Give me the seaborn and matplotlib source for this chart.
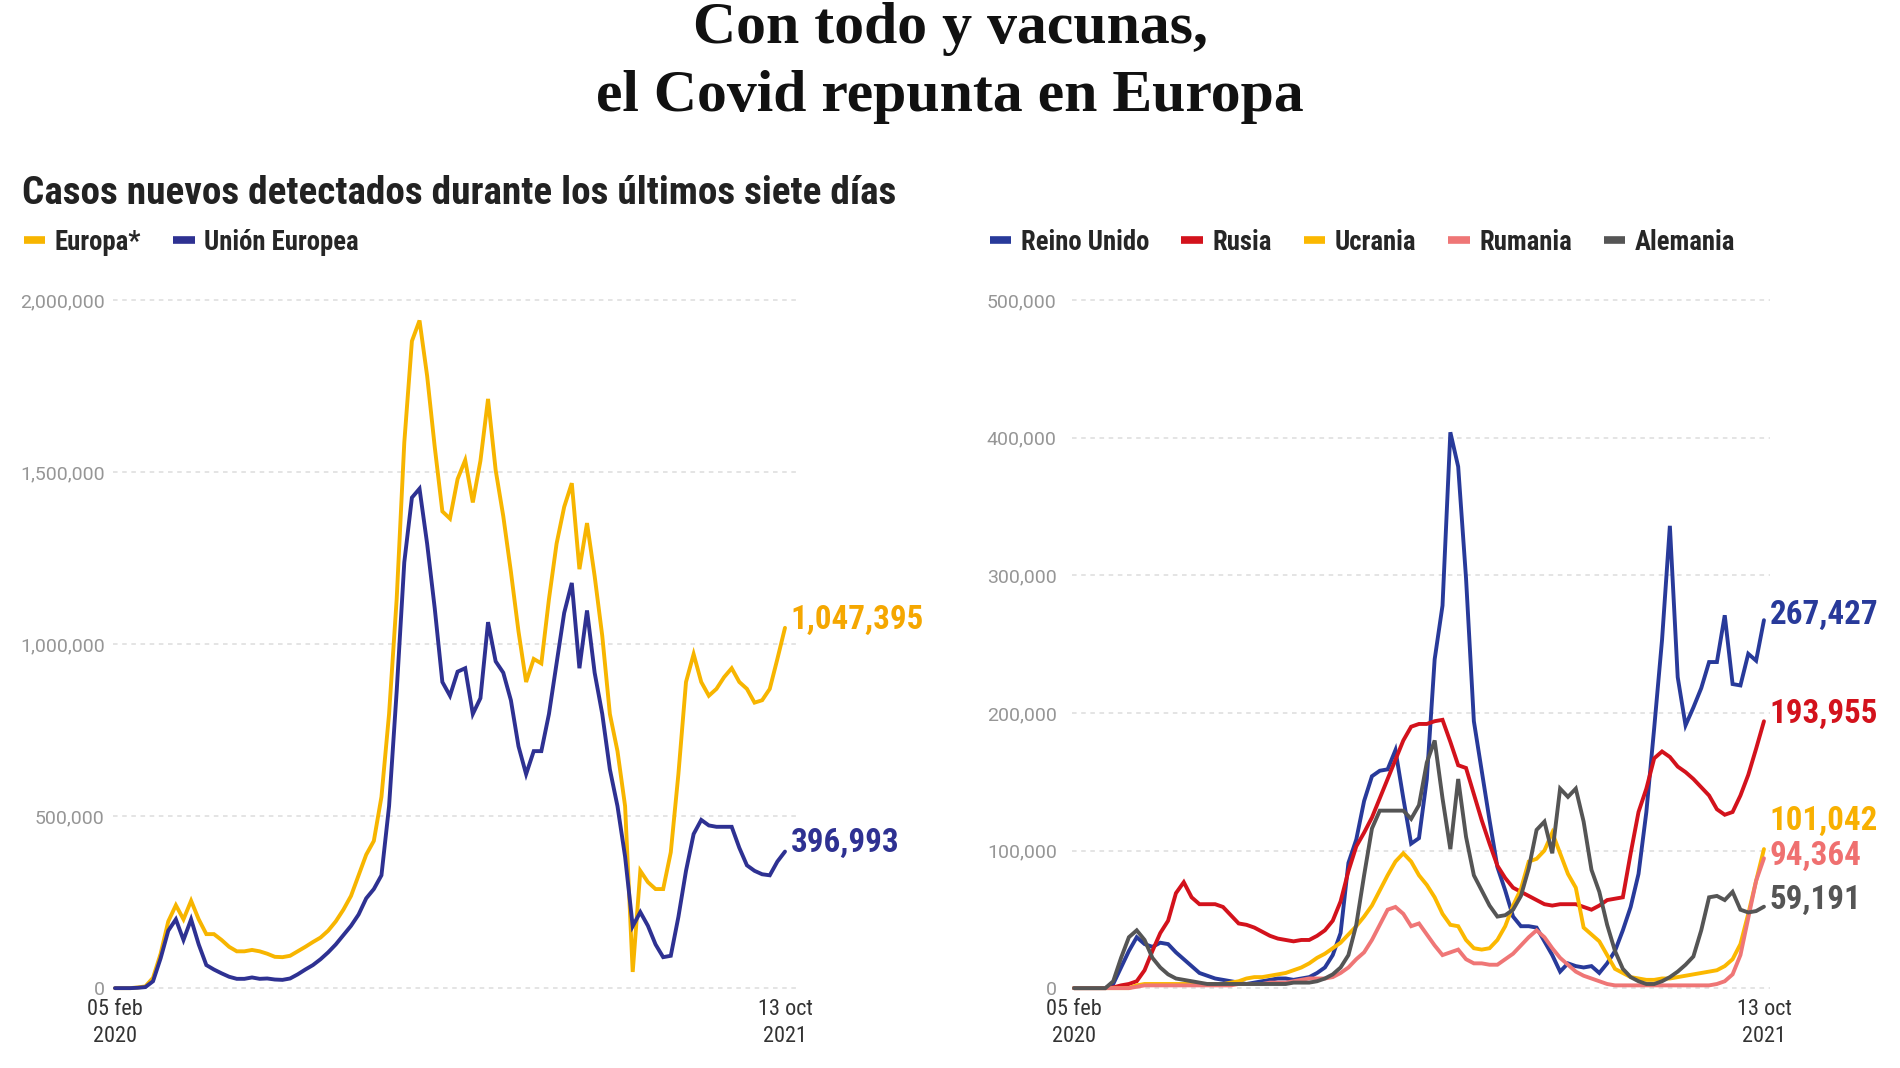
import numpy as np
import pandas as pd
import matplotlib
matplotlib.use("Agg")
import matplotlib.pyplot as plt
from matplotlib.lines import Line2D
from matplotlib import font_manager
import seaborn as sns

# ---------------- data (weekly, thousands of new cases in last 7 days) ----------------
fechas = pd.date_range("2020-02-05", periods=89, freq="7D")

europa = [0, 0, 0, 2, 5, 30, 100, 194, 241, 200, 254, 200, 157, 157, 140, 120, 107, 107, 111, 107,
          100, 91, 90, 94, 107, 120, 134, 147, 167, 194, 228, 268, 328, 388, 428, 556, 797, 1131, 1586, 1881,
          1941, 1780, 1573, 1386, 1365, 1480, 1535, 1412, 1533, 1713, 1506, 1372, 1211, 1037, 890, 957, 944, 1131, 1292, 1399,
          1468, 1218, 1352, 1198, 1024, 797, 689, 529, 47, 341, 308, 288, 288, 395, 622, 890, 971, 890, 850, 870,
          904, 930, 890, 870, 830, 837, 870, 957, 1047.395]
union_europea = [0, 0, 0, 1, 3, 20, 87, 167, 200, 140, 200, 127, 67, 54, 43, 33, 27, 27, 31, 27,
                 28, 25, 24, 28, 40, 54, 67, 84, 104, 127, 154, 181, 214, 261, 288, 328, 529, 863, 1238, 1426,
                 1452, 1292, 1104, 890, 850, 920, 930, 797, 843, 1064, 950, 917, 837, 703, 622, 689, 689, 797, 944, 1091,
                 1178, 930, 1098, 917, 797, 636, 529, 382, 180, 221, 181, 127, 90, 94, 207, 341, 448, 489, 473, 469,
                 469, 469, 408, 357, 341, 331, 328, 368, 396.993]

reino_unido = [0, 0, 0, 0, 0, 3, 15, 27, 37, 32, 30, 33, 32, 26, 21, 16, 11, 9, 7, 6,
               5, 4, 3, 4, 5, 6, 7, 7, 6, 7, 8, 11, 15, 24, 40, 91, 108, 136, 154, 158,
               159, 173, 138, 105, 109, 152, 239, 278, 404, 379, 298, 194, 158, 122, 88, 71, 52, 45, 45, 44,
               34, 24, 12, 18, 16, 15, 16, 11, 18, 27, 42, 59, 83, 128, 189, 253, 336, 226, 191, 204,
               218, 237, 237, 271, 221, 220, 243, 238, 267.427]
rusia = [0, 0, 0, 0, 0, 0.5, 2, 3, 5, 13, 27, 40, 49, 69, 77, 66, 61, 61, 61, 59,
         53, 47, 46, 44, 41, 38, 36, 35, 34, 35, 35, 38, 42, 49, 63, 85, 103, 113, 124, 138,
         152, 166, 180, 190, 192, 192, 194, 195, 179, 162, 160, 141, 122, 105, 89, 80, 73, 70, 67, 64,
         61, 60, 61, 61, 61, 59, 57, 60, 64, 65, 66, 98, 128, 145, 167, 172, 168, 161, 157, 152,
         146, 140, 130, 126, 128, 140, 155, 174, 193.955]
ucrania = [0, 0, 0, 0, 0, 0, 0, 0, 2, 3, 3, 3, 3, 3, 3, 3, 3, 3, 3, 3,
           4, 5, 7, 8, 8, 9, 10, 11, 13, 15, 18, 22, 25, 29, 33, 39, 45, 52, 60, 71,
           82, 92, 98, 92, 82, 75, 66, 54, 46, 45, 35, 29, 28, 29, 35, 45, 60, 72, 92, 94,
           100, 113, 98, 83, 73, 44, 39, 34, 24, 14, 11, 8, 7, 6, 6, 7, 7, 8, 9, 10,
           11, 12, 13, 16, 21, 32, 54, 78, 101.042]
rumania = [0, 0, 0, 0, 0, 0, 0, 0, 1, 2, 2, 2, 2, 2, 2, 2, 2, 2, 2, 2,
           2, 3, 3, 3, 3, 4, 4, 4, 5, 6, 7, 7, 7, 8, 11, 15, 21, 26, 35, 46,
           57, 59, 54, 45, 47, 39, 31, 24, 26, 28, 21, 18, 18, 17, 17, 21, 25, 31, 37, 42,
           37, 29, 22, 17, 12, 9, 7, 5, 3, 2, 2, 2, 2, 2, 2, 2, 2, 2, 2, 2,
           2, 2, 3, 5, 10, 24, 51, 78, 94.364]
alemania = [0, 0, 0, 0, 0, 5, 22, 37, 42, 35, 22, 15, 10, 7, 6, 5, 4, 3, 3, 3,
            3, 3, 3, 3, 3, 3, 3, 3, 4, 4, 4, 5, 7, 10, 15, 24, 46, 82, 116, 129,
            129, 129, 129, 123, 133, 164, 180, 138, 101, 152, 110, 82, 71, 60, 52, 53, 57, 67, 87, 115,
            121, 98, 145, 139, 145, 121, 86, 70, 46, 27, 14, 8, 5, 3, 3, 5, 8, 12, 17, 23,
            42, 66, 67, 64, 70, 57, 55, 56, 59.191]

izq_series = ["Europa*", "Unión Europea"]
izq_valores = [europa, union_europea]
der_series = ["Reino Unido", "Rusia", "Ucrania", "Rumania", "Alemania"]
der_valores = [reino_unido, rusia, ucrania, rumania, alemania]

izq_yticks = [0, 500000, 1000000, 1500000, 2000000]
der_yticks = [0, 100000, 200000, 300000, 400000, 500000]
xtick_labels = ["05 feb\n2020", "13 oct\n2021"]

titulo = ["Con todo y vacunas,", "el Covid repunta en Europa"]
subtitulo = "Casos nuevos detectados durante los últimos siete días"

# ---------------- styles ----------------
colores = {
    "Europa*": "#F7B500",
    "Unión Europea": "#2E3192",
    "Reino Unido": "#283A9A",
    "Rusia": "#D3121C",
    "Ucrania": "#FBB800",
    "Rumania": "#EF7676",
    "Alemania": "#555555",
}
label_colores = {
    "Europa*": "#F5A700",
    "Unión Europea": "#2E3192",
    "Reino Unido": "#283A9A",
    "Rusia": "#D3121C",
    "Ucrania": "#F8B000",
    "Rumania": "#EF7070",
    "Alemania": "#555555",
}
label_dy = {"Europa*": 6, "Unión Europea": 6, "Reino Unido": 4, "Rusia": 5,
            "Ucrania": 20.5, "Rumania": 2, "Alemania": 5}

sns.set_theme(style="white")

_nombres = {f.name for f in font_manager.fontManager.ttflist}
if "Roboto Condensed" in _nombres:
    NARROW = ["Roboto Condensed", "DejaVu Sans"]
    SZ = dict(sub=28.3, leg=19.3, end=23.8, xt=16)
elif "Liberation Sans Narrow" in _nombres:
    NARROW = ["Liberation Sans Narrow", "DejaVu Sans"]
    SZ = dict(sub=26, leg=17.5, end=24, xt=15)
else:
    NARROW = ["Liberation Sans", "DejaVu Sans"]
    SZ = dict(sub=23.7, leg=16.2, end=22, xt=14.5)
plt.rcParams["font.family"] = NARROW


def long_df(nombres, valores):
    partes = []
    for n, v in zip(nombres, valores):
        partes.append(pd.DataFrame({"fecha": fechas, "casos": np.array(v) * 1000.0, "serie": n}))
    return pd.concat(partes, ignore_index=True)


W, H = 1900, 1068
fig = plt.figure(figsize=(W / 100, H / 100), dpi=100)
fig.patch.set_facecolor("white")


def px_axes(l, r, b, t):
    return fig.add_axes([l / W, 1 - b / H, (r - l) / W, (b - t) / H])


ax1 = px_axes(113, 800, 995, 283)
ax2 = px_axes(1072, 1770, 995, 283)

paneles = [
    (ax1, izq_series, izq_valores, izq_yticks, (-20000, 2050000), 13.8, 6),
    (ax2, der_series, der_valores, der_yticks, (-5000, 512500), 5.4, 11),
]

for ax, nombres, valores, yticks, ylim, extra, pad in paneles:
    df = long_df(nombres, valores)
    sns.lineplot(data=df, x="fecha", y="casos", hue="serie", hue_order=nombres,
                 palette=[colores[n] for n in nombres], linewidth=2.8, ax=ax,
                 legend=False, estimator=None, sort=False)
    for ln in ax.lines:
        ln.set_solid_joinstyle("miter")
        ln.set_clip_on(False)
    ax.set_ylim(*ylim)
    ax.set_xlim(fechas[0] - pd.Timedelta(days=1.8), fechas[-1] + pd.Timedelta(days=extra))
    ax.set_yticks(yticks)
    ax.set_yticklabels([f"{v:,}" for v in yticks], family=["Roboto", "DejaVu Sans"],
                       fontsize=14, color="#969696")
    ax.set_xticks([fechas[0], fechas[-1]])
    ax.set_xticklabels(xtick_labels, fontsize=SZ["xt"], color="#333333", linespacing=1.35)
    ax.tick_params(axis="both", length=0)
    ax.tick_params(axis="y", pad=pad)
    ax.tick_params(axis="x", pad=3)
    ax.set_xlabel("")
    ax.set_ylabel("")
    for s in ax.spines.values():
        s.set_visible(False)
    ax.grid(False)
    for v in yticks:
        ax.axhline(v, color="#dddddd", lw=1.1, ls=(0, (3, 3)), zorder=0)
    ax.set_facecolor("none")
    # end labels
    for n, v in zip(nombres, valores):
        final = v[-1] * 1000.0
        ax.annotate(f"{int(round(final)):,}", xy=(fechas[-1], final), xytext=(4, label_dy[n]),
                    textcoords="offset points", ha="left", va="center", fontsize=SZ["end"],
                    fontweight="bold", color=label_colores[n], annotation_clip=False)

    handles = [Line2D([0], [0], color=colores[n], lw=5.5, solid_capstyle="butt") for n in nombres]
    x0 = 24 if ax is ax1 else 990
    ax.legend(handles, nombres, loc="center left", bbox_to_anchor=(x0 / W, 1 - 242 / H),
              bbox_transform=fig.transFigure, ncol=len(nombres), frameon=False,
              handlelength=0.8, handletextpad=0.35, columnspacing=1.2, borderpad=0,
              borderaxespad=0, prop={"family": NARROW, "weight": "bold", "size": SZ["leg"]})

# ---------------- titles ----------------
fig.text(950 / W, 1 - 43 / H, titulo[0], ha="center", va="baseline", fontsize=43,
         fontweight="bold", family=["Liberation Serif", "DejaVu Serif"], color="#111111")
fig.text(950 / W, 1 - 111 / H, titulo[1], ha="center", va="baseline", fontsize=43,
         fontweight="bold", family=["Liberation Serif", "DejaVu Serif"], color="#111111")
fig.text(22 / W, 1 - 204 / H, subtitulo, ha="left", va="baseline", fontsize=SZ["sub"],
         fontweight="bold", family=NARROW, color="#222222")

fig.savefig("out.png", dpi=100, facecolor="white")
